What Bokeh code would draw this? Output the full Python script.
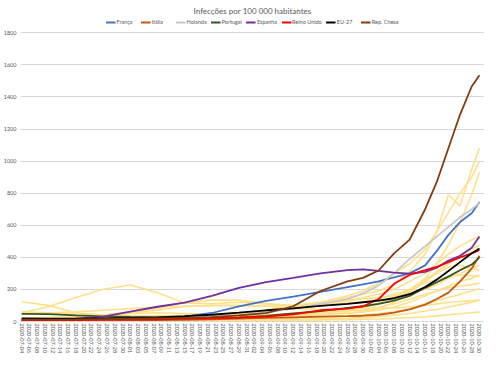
import math
import pandas as pd
from bokeh.plotting import figure
from bokeh.models import (Range1d, FixedTicker, DatetimeTickFormatter, Legend, LegendItem)
from bokeh.embed import file_html
from bokeh.resources import INLINE

DATES = ["2020-07-04", "2020-07-11", "2020-07-18", "2020-07-25", "2020-08-01", "2020-08-08",
         "2020-08-15", "2020-08-22", "2020-08-29", "2020-09-05", "2020-09-12", "2020-09-19",
         "2020-09-26", "2020-09-30", "2020-10-04", "2020-10-08", "2020-10-12", "2020-10-16",
         "2020-10-19", "2020-10-22", "2020-10-25", "2020-10-28", "2020-10-30"]

franca = [8, 9, 11, 14, 18, 22, 30, 53, 95, 128, 155, 185, 215, 232, 250, 275, 300, 350, 440, 540, 620, 675, 745]
italia = [3, 3, 4, 5, 6, 8, 10, 14, 18, 22, 26, 30, 33, 36, 42, 55, 75, 105, 140, 180, 250, 330, 410]
holanda = [10, 9, 10, 12, 15, 20, 25, 30, 38, 60, 80, 110, 140, 175, 225, 300, 390, 470, 530, 590, 650, 700, 740]
portugal = [48, 46, 38, 32, 28, 25, 22, 22, 25, 35, 50, 65, 85, 95, 110, 130, 160, 210, 245, 280, 320, 355, 400]
espanha = [8, 10, 18, 30, 62, 92, 118, 160, 210, 245, 272, 300, 320, 325, 315, 305, 298, 310, 335, 380, 410, 460, 530]
reino_unido = [8, 8, 9, 10, 12, 14, 17, 20, 24, 30, 45, 70, 80, 95, 140, 235, 290, 320, 340, 370, 400, 425, 445]
eu27 = [20, 18, 18, 20, 22, 26, 33, 42, 55, 70, 82, 98, 110, 120, 130, 145, 170, 215, 261, 315, 370, 425, 455]
rep_chesa = [12, 12, 13, 15, 17, 19, 21, 27, 38, 52, 95, 190, 250, 272, 318, 425, 510, 700, 870, 1080, 1290, 1465, 1535]

# other EU countries (unlabelled, light yellow)
outros = [
    [10, 15, 25, 40, 50, 55, 50, 45, 45, 60, 80, 110, 150, 170, 190, 230, 310, 420, 560, 790, 720, 950, 1080],
    [55, 94, 150, 201, 228, 180, 115, 110, 120, 110, 100, 120, 160, 190, 240, 300, 360, 450, 560, 680, 800, 900, 1000],
    [5, 5, 6, 8, 10, 12, 15, 18, 22, 30, 40, 55, 75, 90, 110, 140, 190, 270, 360, 480, 620, 790, 930],
    [123, 100, 55, 40, 35, 35, 38, 45, 55, 70, 90, 110, 130, 140, 150, 160, 180, 200, 230, 270, 300, 330, 350],
    [60, 55, 45, 35, 30, 30, 30, 32, 35, 40, 45, 55, 65, 70, 80, 85, 90, 100, 110, 120, 125, 130, 135],
    [5, 10, 20, 40, 60, 80, 120, 133, 133, 110, 100, 105, 115, 120, 140, 170, 200, 240, 260, 280, 290, 285, 280],
    [50, 55, 60, 70, 80, 90, 95, 100, 100, 95, 100, 110, 130, 150, 170, 200, 250, 300, 360, 420, 470, 510, 530],
    [15, 15, 18, 20, 22, 25, 28, 30, 35, 40, 50, 60, 80, 95, 115, 150, 200, 260, 310, 360, 410, 450, 475],
    [10, 10, 12, 15, 18, 20, 22, 25, 28, 32, 38, 45, 55, 60, 70, 90, 120, 160, 190, 220, 250, 270, 290],
    [5, 5, 5, 6, 7, 8, 10, 12, 15, 18, 22, 28, 35, 40, 48, 60, 80, 110, 130, 150, 170, 190, 205],
    [3, 3, 4, 4, 5, 6, 7, 8, 10, 12, 14, 17, 20, 24, 30, 40, 50, 65, 75, 90, 105, 120, 135],
    [2, 2, 2, 3, 3, 4, 4, 5, 6, 7, 8, 10, 12, 14, 16, 20, 25, 30, 35, 42, 48, 55, 60],
    [8, 8, 9, 10, 12, 14, 16, 18, 22, 28, 35, 42, 50, 60, 80, 120, 180, 250, 300, 340, 350, 330, 320],
    [20, 25, 30, 40, 55, 70, 95, 98, 100, 95, 80, 75, 75, 80, 90, 110, 140, 170, 190, 210, 220, 230, 240],
]

NAMES = ["França", "Itália", "Holanda", "Portugal", "Espanha", "Reino Unido", "EU-27", "Rep. Chesa"]
SERIES = [franca, italia, holanda, portugal, espanha, reino_unido, eu27, rep_chesa]
COLORS = ["#4472C4", "#C55A11", "#C9C9C9", "#375623", "#7030A0", "#FF0000", "#000000", "#843C0C"]
YELLOW = "#FFE08A"

x = pd.to_datetime(DATES)
DAY = 86400000
t0 = pd.Timestamp("2020-07-04").value // 10**6
t1 = pd.Timestamp("2020-10-30").value // 10**6

FONT = "Lato"
GREY = "#595959"

p = figure(width=484, height=356, output_backend="svg", toolbar_location=None,
           x_axis_type="datetime",
           x_range=Range1d(t0 - 0.3 * DAY, t1 + 1.3 * DAY),
           y_range=Range1d(0, 1889),
           min_border_left=2, min_border_right=0, min_border_top=0, min_border_bottom=0)

p.title.text = "Infecções por 100 000 habitantes"
p.title.align = "center"
p.title.text_font = FONT
p.title.text_font_size = "8px"
p.title.text_font_style = "normal"
p.title.text_color = GREY
p.title.standoff = 6

for ys in outros:
    p.line(x, ys, line_color=YELLOW, line_width=1.6)

items = []
for name, ys, c in zip(NAMES, SERIES, COLORS):
    r = p.line(x, ys, line_color=c, line_width=1.8)
    items.append(LegendItem(label=name, renderers=[r]))

legend = Legend(items=items, orientation="horizontal", location="top_center",
                label_text_font=FONT, label_text_font_size="5.5px", label_text_color=GREY,
                glyph_width=10, glyph_height=6, label_standoff=1, spacing=4, label_height=6,
                padding=0, margin=1, border_line_color=None, background_fill_alpha=0)
p.add_layout(legend, "center")

p.xaxis.ticker = FixedTicker(ticks=[t0 + 2 * i * DAY for i in range(60)])
p.xaxis.formatter = DatetimeTickFormatter(days="%Y-%m-%d", months="%Y-%m-%d", hours="%Y-%m-%d")
p.xaxis.major_label_orientation = "vertical"
p.xaxis.major_label_text_font = FONT
p.xaxis.major_label_text_font_size = "5.5px"
p.xaxis.major_label_text_color = GREY
p.xaxis.major_label_standoff = 2
p.xaxis.axis_line_color = "#D9D9D9"
p.xaxis.major_tick_line_color = None
p.xaxis.minor_tick_line_color = None
p.xaxis.major_tick_out = 0
p.xaxis.major_tick_in = 0
p.xaxis.minor_tick_out = 0

p.yaxis.ticker = FixedTicker(ticks=list(range(0, 1801, 200)))
p.yaxis.major_label_text_font = FONT
p.yaxis.major_label_text_font_size = "5.5px"
p.yaxis.major_label_text_color = GREY
p.yaxis.axis_line_color = None
p.yaxis.major_tick_line_color = None
p.yaxis.minor_tick_line_color = None
p.yaxis.major_tick_out = 0
p.yaxis.major_tick_in = 0
p.yaxis.minor_tick_out = 0
p.yaxis.major_label_standoff = 4

p.xgrid.grid_line_color = None
p.ygrid.grid_line_color = "#D9D9D9"
p.ygrid.grid_line_width = 1
p.outline_line_color = None

open("out.html", "w").write(file_html(p, INLINE))
